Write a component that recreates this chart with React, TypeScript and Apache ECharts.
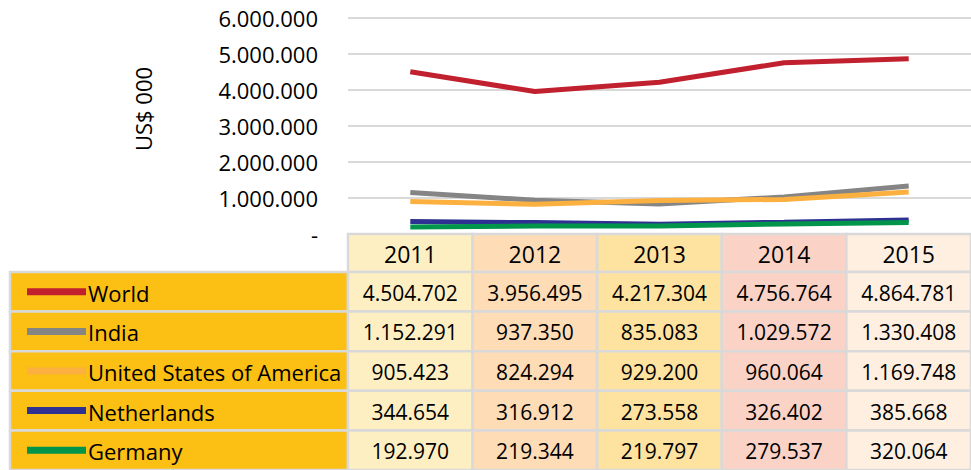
import React, { useEffect, useRef } from "react";
import * as echarts from "echarts";

const years = ["2011", "2012", "2013", "2014", "2015"];
const seriesNames = ["World", "India", "United States of America", "Netherlands", "Germany"];
const world = [4504702, 3956495, 4217304, 4756764, 4864781];
const india = [1152291, 937350, 835083, 1029572, 1330408];
const usa = [905423, 824294, 929200, 960064, 1169748];
const netherlands = [344654, 316912, 273558, 326402, 385668];
const germany = [192970, 219344, 219797, 279537, 320064];
const seriesColors = ["#C1202F", "#858585", "#FBB040", "#2E3192", "#00954A"];
const yearColors = ["#FEEFC3", "#FDDCB6", "#FEE29F", "#FAD3C6", "#FEEFE1"];
const yMin = 0;
const yMax = 6000000;
const yStep = 1000000;
const axisTitle = "US$ 000";

const FONT = '"Open Sans", "Noto Sans", sans-serif';
const W = 971;
const H = 470;
const GRID_LEFT = 348;
const GRID_TOP = 18;
const ZERO_Y = 234;
const TABLE_LEFT = 10;
const HEADER_BOTTOM = 272;
const BORDER = "#D9D9D9";
const LABEL_BG = "#FCBF13";

function fmt(n: number): string {
  if (n === 0) return "-";
  return String(n).replace(/\B(?=(\d{3})+(?!\d))/g, ".");
}

export default function App() {
  const ref = useRef<HTMLDivElement>(null);
  useEffect(() => {
    if (!ref.current) return;
    const chart = echarts.init(ref.current, undefined, { renderer: "svg" });
    const allData = [world, india, usa, netherlands, germany];
    const colW = (W - GRID_LEFT) / years.length;
    const rowH = (H - HEADER_BOTTOM) / seriesNames.length;
    const graphics: any[] = [];

    years.forEach((y, i) => {
      const x = GRID_LEFT + i * colW;
      graphics.push({
        type: "rect",
        z: 10,
        shape: { x, y: ZERO_Y, width: colW, height: HEADER_BOTTOM - ZERO_Y },
        style: { fill: yearColors[i], stroke: BORDER, lineWidth: 2.5 },
      });
      graphics.push({
        type: "text",
        z: 11,
        x: x + colW / 2,
        y: (ZERO_Y + HEADER_BOTTOM) / 2 + 1,
        style: { text: y, fontSize: 23, fontFamily: FONT, fill: "#000", align: "center", verticalAlign: "middle" },
      });
    });

    seriesNames.forEach((name, r) => {
      const y0 = HEADER_BOTTOM + r * rowH;
      const mid = y0 + rowH / 2;
      graphics.push({
        type: "rect",
        z: 10,
        shape: { x: TABLE_LEFT, y: y0, width: GRID_LEFT - TABLE_LEFT, height: rowH },
        style: { fill: LABEL_BG, stroke: BORDER, lineWidth: 2.5 },
      });
      graphics.push({
        type: "rect",
        z: 11,
        shape: { x: 27, y: mid - 3.5, width: 59, height: 7 },
        style: { fill: seriesColors[r] },
      });
      graphics.push({
        type: "text",
        z: 11,
        x: 88,
        y: mid + 1,
        style: { text: name, fontSize: 22, fontFamily: FONT, fill: "#000", align: "left", verticalAlign: "middle" },
      });
      allData[r].forEach((v, i) => {
        const x = GRID_LEFT + i * colW;
        graphics.push({
          type: "rect",
          z: 10,
          shape: { x, y: y0, width: colW, height: rowH },
          style: { fill: yearColors[i], stroke: BORDER, lineWidth: 2.5 },
        });
        graphics.push({
          type: "text",
          z: 11,
          x: x + colW / 2,
          y: mid + 1,
          style: { text: fmt(v), fontSize: 21, fontFamily: FONT, fill: "#000", align: "center", verticalAlign: "middle" },
        });
      });
    });

    graphics.push({
      type: "text",
      z: 11,
      x: 143,
      y: 109,
      rotation: Math.PI / 2,
      style: { text: axisTitle, fontSize: 22, fontFamily: FONT, fill: "#000", align: "center", verticalAlign: "middle" },
    });

    chart.setOption({
      animation: false,
      grid: { left: GRID_LEFT, right: 0, top: GRID_TOP, bottom: H - ZERO_Y, containLabel: false },
      xAxis: {
        type: "category",
        data: years,
        boundaryGap: true,
        axisLine: { show: false },
        axisTick: { show: false },
        axisLabel: { show: false },
      },
      yAxis: {
        type: "value",
        min: yMin,
        max: yMax,
        interval: yStep,
        axisLine: { show: false },
        axisTick: { show: false },
        axisLabel: {
          formatter: (v: number) => fmt(v),
          fontSize: 22,
          fontFamily: FONT,
          color: "#000",
          margin: 30,
        },
        splitLine: { lineStyle: { color: BORDER, width: 2 } },
      },
      series: seriesNames.map((name, i) => ({
        name,
        type: "line",
        data: allData[i],
        symbol: "none",
        lineStyle: { color: seriesColors[i], width: 5 },
        itemStyle: { color: seriesColors[i] },
      })),
      graphic: graphics,
    });
    return () => chart.dispose();
  }, []);
  return (
    <div
      ref={ref}
      style={{ position: "fixed", left: 0, top: 0, width: W, height: H, background: "#fff" }}
    />
  );
}
